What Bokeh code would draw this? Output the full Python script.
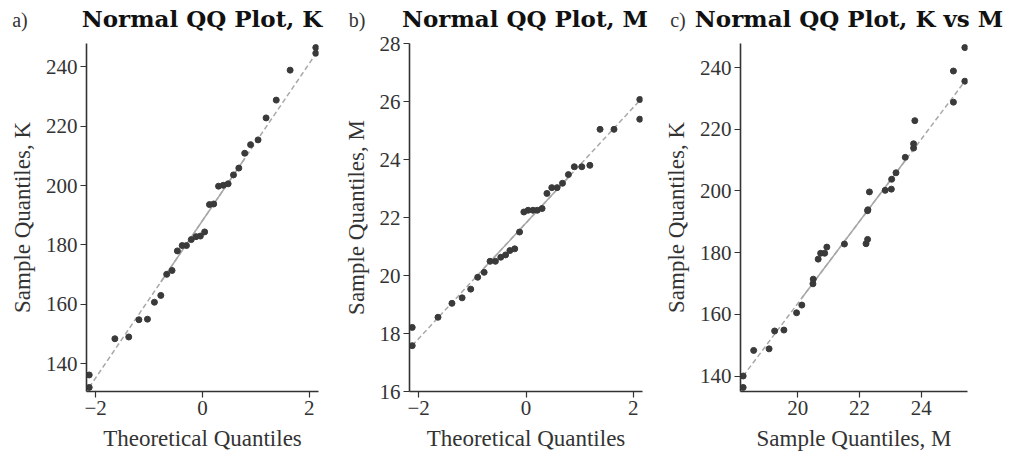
import numpy as np
from bokeh.plotting import figure
from bokeh.layouts import row, column
from bokeh.models import Range1d, FixedTicker, Div
from bokeh.embed import file_html
from bokeh.resources import INLINE

# Theoretical normal quantiles shared by panels a and b
theor_q = [-2.12, -2.12, -1.64, -1.38, -1.19, -1.03, -0.90, -0.78, -0.67, -0.57,
           -0.47, -0.38, -0.30, -0.21, -0.12, -0.04, 0.04, 0.13, 0.21, 0.30,
           0.39, 0.48, 0.58, 0.68, 0.79, 0.90, 1.04, 1.19, 1.38, 1.64, 2.12, 2.12]

# Ordered sample values of K
k_sorted = [132.0, 136.2, 148.4, 149.0, 154.8, 155.0, 160.7, 163.0, 170.1, 171.4,
            178.0, 179.8, 179.8, 181.8, 182.8, 183.0, 184.4, 193.6, 193.8, 199.8,
            200.1, 200.6, 203.6, 205.9, 210.9, 213.8, 215.4, 222.8, 228.8, 238.9,
            244.6, 246.5]

# Ordered sample values of M
m_sorted = [17.58, 18.21, 18.56, 19.04, 19.23, 19.53, 19.94, 20.11, 20.49, 20.49,
            20.63, 20.71, 20.86, 20.92, 21.50, 22.19, 22.25, 22.25, 22.25, 22.31,
            22.83, 23.03, 23.03, 23.18, 23.48, 23.75, 23.75, 23.80, 25.04, 25.04,
            25.39, 26.07]

# Quantile pairs for K against M
kvm_m = [18.23, 18.23, 18.57, 19.07, 19.25, 19.55, 19.96, 20.13, 20.49, 20.50,
         20.66, 20.74, 20.87, 20.94, 21.51, 22.21, 22.26, 22.26, 22.27, 22.32,
         22.83, 23.03, 23.04, 23.18, 23.48, 23.75, 23.75, 23.79, 25.04, 25.04,
         25.41, 25.41]
kvm_k = [136.3, 140.0, 148.3, 148.8, 154.6, 154.9, 160.5, 163.0, 169.9, 171.4,
         177.9, 179.8, 179.8, 181.8, 182.8, 182.9, 184.3, 193.6, 193.9, 199.7,
         200.2, 200.6, 203.8, 205.9, 210.9, 213.9, 215.3, 222.8, 228.8, 238.9,
         235.6, 246.5]

# Reference lines (intercept, slope)
line_a = (188.2, 26.5)
line_b = (21.81, 1.993)
line_c = (140.0 - 13.31 * 18.23, 13.31)

# Panel tags and titles
tags = ["a)", "b)", "c)"]
titles = ["Normal QQ Plot, K", "Normal QQ Plot, M", "Normal QQ Plot, K vs M"]

SERIF = "Liberation Serif"
TITLE_FONT = "DejaVu Serif"
PT_COLOR = "#3a3a3a"
LINE_COLOR = "#a8a8a8"
AXIS_COLOR = "#333333"
HEADER_H = 32
PLOT_H = 463 - HEADER_H
TOP_GAP = 11
FRAME_H = 348


def padded(lo, hi, frac=0.012):
    d = (hi - lo) * frac
    return Range1d(lo - d, hi + d)


def make_panel(width, left, right, xs, ys, line, xticks, yticks, xlabel, ylabel,
               yrange=None):
    x_range = padded(min(xs), max(xs))
    y_range = yrange if yrange is not None else padded(min(ys), max(ys))
    p = figure(width=width, height=PLOT_H, x_range=x_range, y_range=y_range,
               output_backend="svg", toolbar_location=None,
               min_border_left=left, min_border_right=right,
               min_border_top=TOP_GAP,
               min_border_bottom=PLOT_H - TOP_GAP - FRAME_H)
    p.outline_line_color = None
    p.background_fill_color = "white"
    p.border_fill_color = "white"
    p.xgrid.visible = False
    p.ygrid.visible = False

    for ax, ticks, lab in ((p.xaxis[0], xticks, xlabel), (p.yaxis[0], yticks, ylabel)):
        ax.ticker = FixedTicker(ticks=ticks)
        ax.minor_tick_line_color = None
        ax.major_tick_out = 6
        ax.major_tick_in = 0
        ax.axis_line_color = AXIS_COLOR
        ax.axis_line_width = 1.6
        ax.major_tick_line_color = AXIS_COLOR
        ax.major_tick_line_width = 1.2
        ax.major_label_text_font = SERIF
        ax.major_label_text_font_size = "21px"
        ax.major_label_text_color = "#333333"
        ax.major_label_standoff = 3
        ax.axis_label = lab
        ax.axis_label_text_font = SERIF
        ax.axis_label_text_font_size = "23px"
        ax.axis_label_text_font_style = "normal"
        ax.axis_label_text_color = "#333333"
        ax.axis_label_standoff = 8

    # fitted reference line: dashed over the full span, solid between the quartile points
    b0, b1 = line
    xs_sorted = sorted(xs)
    x_full = np.array([xs_sorted[0], xs_sorted[-1]])
    x_mid = np.array([xs_sorted[7], xs_sorted[24]])
    p.line(x_full, b0 + b1 * x_full, line_color=LINE_COLOR, line_width=1.5,
           line_dash="5 3")
    p.line(x_mid, b0 + b1 * x_mid, line_color=LINE_COLOR, line_width=1.5)

    p.scatter(xs, ys, size=6, fill_color=PT_COLOR, line_color=PT_COLOR)
    return p


pa = make_panel(340, 86, 22, theor_q, k_sorted, line_a,
                [-2, 0, 2], [140, 160, 180, 200, 220, 240],
                "Theoretical Quantiles", "Sample Quantiles, K")
pb = make_panel(320, 69, 18, theor_q, m_sorted, line_b,
                [-2, 0, 2], [16, 18, 20, 22, 24, 26, 28],
                "Theoretical Quantiles", "Sample Quantiles, M",
                yrange=Range1d(16, 28))
pc = make_panel(355, 72, 48, kvm_m, kvm_k, line_c,
                [20, 22, 24], [140, 160, 180, 200, 220, 240],
                "Sample Quantiles, M", "Sample Quantiles, K")

# header row: panel tags and bold titles centred over each plotting frame
tag_centres = [20, 357, 678]
title_centres = [202, 525, 849]
spans = []
for tx, t, cx, title in zip(tag_centres, tags, title_centres, titles):
    spans.append(
        f'<span style="position:absolute;left:{tx}px;top:20px;'
        f'transform:translate(-50%,-50%);white-space:nowrap;'
        f'font-family:\'{SERIF}\';font-size:20px;color:#333333;">{t}</span>')
    spans.append(
        f'<span style="position:absolute;left:{cx}px;top:19px;'
        f'transform:translate(-50%,-50%);white-space:nowrap;'
        f'font-family:\'{TITLE_FONT}\';font-weight:bold;font-size:23px;'
        f'color:#111111;">{title}</span>')
header = Div(text=f'<div style="position:relative;width:1015px;height:{HEADER_H}px;'
                  f'background:white;">' + "".join(spans) + '</div>',
             width=1015, height=HEADER_H, margin=0)

layout = column(header, row(pa, pb, pc, spacing=0), spacing=0)
open("out.html", "w").write(file_html(layout, INLINE))
